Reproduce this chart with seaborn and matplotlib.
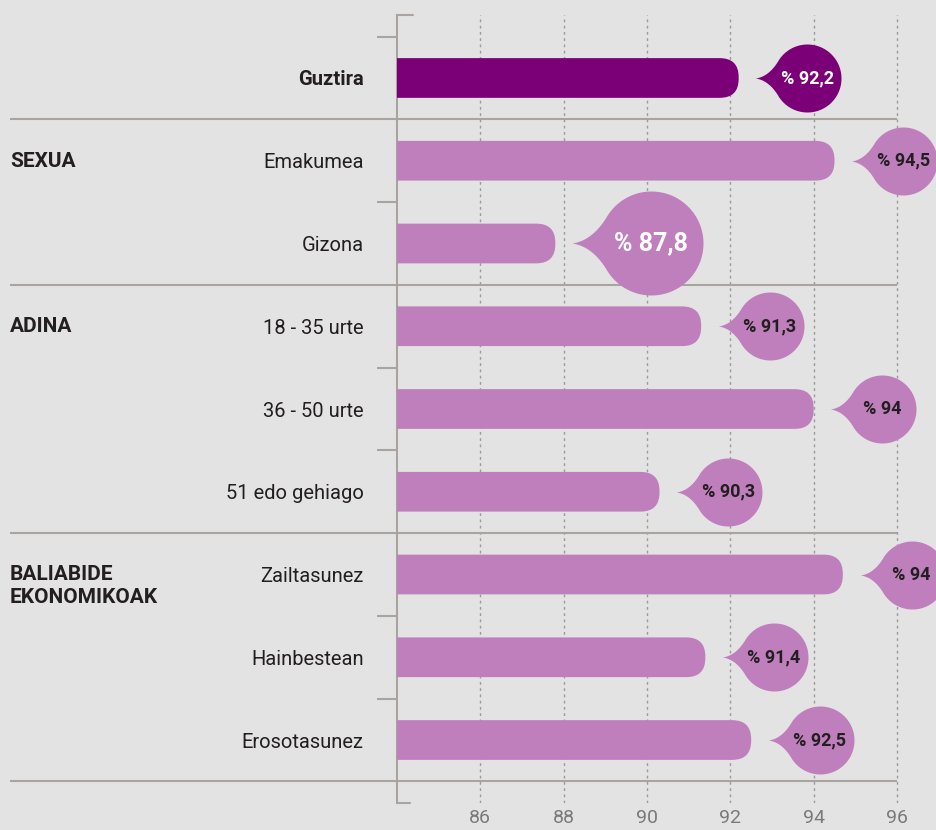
import numpy as np
import matplotlib
matplotlib.use('Agg')
import matplotlib.pyplot as plt
from matplotlib.patches import FancyBboxPatch
from matplotlib.path import Path
import seaborn as sns

# datuak
categories = ['Guztira', 'Emakumea', 'Gizona', '18 - 35 urte', '36 - 50 urte',
              '51 edo gehiago', 'Zailtasunez', 'Hainbestean', 'Erosotasunez']
values = [92.2, 94.5, 87.8, 91.3, 94.0, 90.3, 94.7, 91.4, 92.5]
value_labels = ['% 92,2', '% 94,5', '% 87,8', '% 91,3', '% 94', '% 90,3',
                '% 94', '% 91,4', '% 92,5']
groups = ['SEXUA', 'ADINA', 'BALIABIDE\nEKONOMIKOAK']
group_start = [1, 3, 6]
xticks = [86, 88, 90, 92, 94, 96]

BG = '#E3E3E3'
DARK = '#7B0077'
LIGHT = '#BF7FBD'
LINE = '#A9A49F'
TXT = '#231F20'

sns.set_theme(style='white')
plt.rcParams['font.family'] = ['Roboto', 'DejaVu Sans']

fig = plt.figure(figsize=(9.37, 8.30), dpi=100, facecolor=BG)
ax = fig.add_axes([397 / 937, 1 - 803 / 830, 540 / 937, 788 / 830])
ax.set_facecolor(BG)

colors = [DARK] + [LIGHT] * (len(categories) - 1)
sns.barplot(x=values, y=categories, hue=categories, palette=colors, saturation=1,
            orient='h', width=0.48, legend=False, ax=ax)

xmin, xmax = 84, 84 + 540 / (500 / 12)
ax.set_xlim(xmin, xmax)
ax.set_ylim(len(categories) - 0.5 + 0.261, -0.761)

px_x = 540 / (xmax - xmin)          # pixels per x unit
px_y = 788 / (len(categories) - 1 + 1.522)
aspect = px_x / px_y

# rounded bar ends
for p in list(ax.patches):
    x0, y0, w, h = p.get_x(), p.get_y(), p.get_width(), p.get_height()
    fc = p.get_facecolor()
    p.remove()
    ax.add_patch(FancyBboxPatch((x0, y0), w, h,
                                boxstyle=f'round,pad=0,rounding_size={19 / px_x}',
                                mutation_aspect=aspect, fc=fc, ec='none', zorder=3))

# speech bubble marker (circle + little pointer on the left)
j = 147
ang = np.radians(np.linspace(j, -j, 120))
t = np.linspace(0, 1, 20)
tip = np.array([-1.52, 0.0])
a = np.array([np.cos(np.radians(j)), np.sin(np.radians(j))])
c = np.array([-1.12, 0.06])
up = [(1 - s) ** 2 * tip + 2 * (1 - s) * s * c + s ** 2 * a for s in t]
arc = np.column_stack([np.cos(ang), np.sin(ang)])
down = [p_ * np.array([1, -1]) for p_ in up[::-1]]
verts = np.vstack([up, arc, down])
bubble = Path(verts, closed=True)

vmin_i = int(np.argmin(values))
for i, (v, lab) in enumerate(zip(values, value_labels)):
    r = 52 if i == vmin_i else 34
    cx = v + (17 + 1.52 * r) / px_x
    ms = 2 * 1.52 * r * 0.72
    fc = DARK if i == 0 else LIGHT
    ax.scatter([cx], [i], s=ms ** 2, marker=bubble, color=fc, lw=0, zorder=4)
    tc = 'white' if i in (0, vmin_i) else TXT
    fs = 18 if i == vmin_i else 13
    ax.text(cx, i, lab, ha='center', va='center', fontsize=fs,
            fontweight='semibold', color=tc, zorder=5)

# grid and spines
ax.set_xticks(xticks)
ax.xaxis.grid(True, linestyle=(0, (2, 2.5)), color='#9B9B9B', lw=1)
ax.yaxis.grid(False)
ax.set_axisbelow(True)
for s in ['top', 'right', 'bottom']:
    ax.spines[s].set_visible(False)
ax.spines['left'].set_color(LINE)
ax.spines['left'].set_linewidth(1.5)
ax.plot([0, 16 / 540], [1, 1], transform=ax.transAxes, color=LINE, lw=1.5, clip_on=False)
ax.plot([0, 13 / 540], [0, 0], transform=ax.transAxes, color=LINE, lw=1.5, clip_on=False)

ax.hlines([-0.5, 1.5, 3.5, 4.5, 6.5, 7.5], -20 / 540, 0, transform=ax.get_yaxis_transform(),
          color=LINE, lw=1.5, clip_on=False)
ax.hlines([0.5, 2.5, 5.5, 8.5], -387 / 540, 500 / 540, transform=ax.get_yaxis_transform(),
          color=LINE, lw=1.5, clip_on=False, zorder=2)

ax.tick_params(axis='y', length=0, pad=24, labelsize=14.5, labelcolor=TXT)
ax.tick_params(axis='x', length=0, pad=4, labelsize=14, labelcolor='#7A7A7A')
ax.get_yticklabels()[0].set_fontweight('bold')
ax.set_xlabel('')
ax.set_ylabel('')

for g, i in zip(groups, group_start):
    ax.text(-387 / 540, i - 0.11, g, transform=ax.get_yaxis_transform(), ha='left', va='top',
            fontsize=15, fontweight='bold', color=TXT, linespacing=1.25)

fig.savefig('out.png', dpi=100, facecolor=BG)
